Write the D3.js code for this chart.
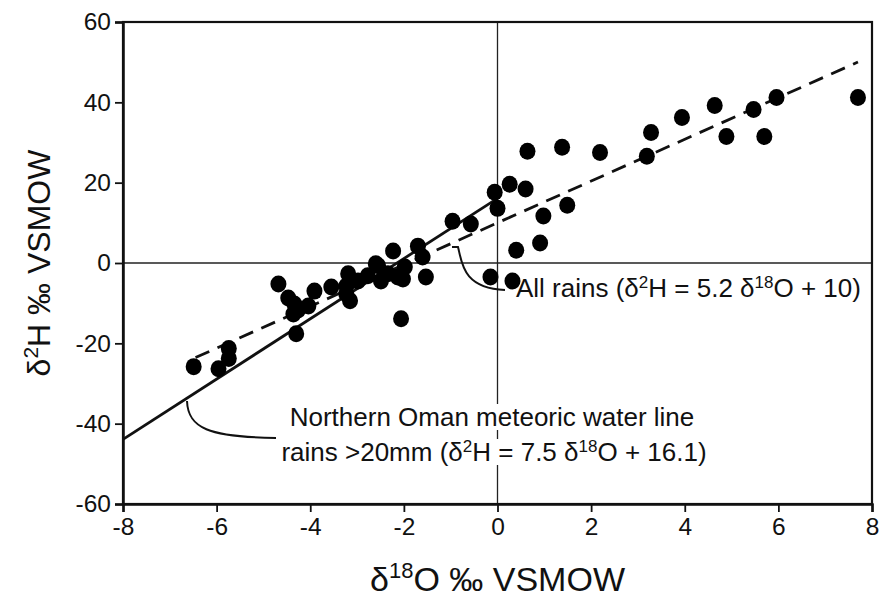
<!DOCTYPE html>
<html><head><meta charset="utf-8">
<script src="https://cdn.jsdelivr.net/npm/d3@7"></script>
<style>body{margin:0;background:#fff}svg{display:block}text{font-family:"Liberation Sans",Arial,sans-serif;fill:#111}</style>
</head><body><svg id="c" width="885" height="600"></svg>
<script>
const d18O = [7.70,5.96,5.47,5.70,4.64,4.89,3.94,3.28,3.19,2.19,1.38,0.64,1.49,0.98,0.91,0.40,0.26,0.60,-0.06,0.00,0.32,-0.15,-0.96,-0.57,-1.70,-1.60,-1.53,-2.02,
 -2.23,-2.60,-2.34,-2.13,-2.77,-2.98,-3.19,-3.23,-3.15,-3.55,-3.91,-4.47,-4.68,-4.26,-4.04,-2.06,-4.36,-4.30,-1.98,-2.49,-3.23,-4.34,-2.55,-5.74,-5.74,-5.96,-6.49];
const d2H = [41.2,41.2,38.2,31.5,39.2,31.5,36.2,32.5,26.6,27.5,28.8,27.8,14.4,11.7,5.0,3.2,19.6,18.4,17.6,13.6,-4.5,-3.5,10.4,9.7,4.2,1.5,-3.5,-4.0,
 3.0,-0.2,-2.7,-3.5,-3.2,-4.5,-2.7,-5.7,-9.4,-6.0,-7.0,-8.7,-5.2,-11.7,-10.7,-13.9,-12.7,-17.6,-1.0,-4.5,-7.7,-10.2,-0.7,-21.3,-23.8,-26.3,-25.8];
const xTicks = [-8,-6,-4,-2,0,2,4,6,8];
const yTicks = [-60,-40,-20,0,20,40,60];
// regression lines: [slope, intercept, xStart, xEnd]
const mwl = [7.5, 16.1, -8, 0];
const allRains = [5.2, 10, -6.45, 7.7];

const svg = d3.select("#c");
const L=123, R=872, T=22, B=504;
const x = d3.scaleLinear().domain([-8,8]).range([L,R]);
const y = d3.scaleLinear().domain([-60,60]).range([B,T]);

svg.append("line").attr("x1",x(-8)).attr("x2",x(8)).attr("y1",y(0)).attr("y2",y(0)).attr("stroke","#222").attr("stroke-width",1.3);
svg.append("line").attr("x1",x(0)).attr("x2",x(0)).attr("y1",y(60)).attr("y2",y(-60)).attr("stroke","#222").attr("stroke-width",1.3);

const ln = p => [[p[2], p[0]*p[2]+p[1]],[p[3], p[0]*p[3]+p[1]]];
const lg = d3.line().x(d=>x(d[0])).y(d=>y(d[1]));
svg.append("path").attr("d",lg(ln(mwl))).attr("stroke","#111").attr("stroke-width",2.8).attr("fill","none");
svg.append("path").attr("d",lg(ln(allRains))).attr("stroke","#111").attr("stroke-width",2.8).attr("fill","none").attr("stroke-dasharray","15,9");

svg.append("g").selectAll("ellipse").data(d18O.map((v,i)=>[v,d2H[i]])).join("ellipse")
 .attr("cx",d=>x(d[0])).attr("cy",d=>y(d[1])).attr("rx",8).attr("ry",8.5).attr("fill","#000");

const FS = 24.5, AFS = 26, SUP = 17;
function eqText(sel, parts){
  let sup=false;
  parts.forEach(p=>{ if(typeof p==="string"){ sel.append("tspan").attr("dy",sup?9:0).text(p); sup=false; }
    else { sel.append("tspan").attr("dy",-9).attr("font-size",SUP).text(p.s); sup=true; } });
}
const ann = svg.append("g");
ann.append("path").attr("d","M452,247 L458,247 C462,262 462,288 505,290").attr("stroke","#111").attr("stroke-width",2).attr("fill","none");
const t1 = ann.append("text").attr("x",516).attr("y",297).attr("font-size",AFS);
eqText(t1,["All rains (δ",{s:"2"},"H = 5.2 δ",{s:"18"},"O + 10)"]);

ann.append("path").attr("d","M187,401 C188,428 208,437 276,438").attr("stroke","#111").attr("stroke-width",2).attr("fill","none");
const bg = ann.append("g");
const t2 = ann.append("text").attr("x",492).attr("y",426).attr("font-size",AFS).attr("text-anchor","middle").text("Northern Oman meteoric water line");
const t3 = ann.append("text").attr("x",494).attr("y",461).attr("font-size",AFS).attr("text-anchor","middle");
eqText(t3,["rains >20mm (δ",{s:"2"},"H = 7.5 δ",{s:"18"},"O + 16.1)"]);
[t2,t3].forEach(t=>{const b=t.node().getBBox(); bg.append("rect").attr("x",b.x-3).attr("y",b.y+2).attr("width",b.width+6).attr("height",b.height-4).attr("fill","#fff");});

svg.append("rect").attr("x",L).attr("y",T).attr("width",R-L).attr("height",B-T).attr("fill","none").attr("stroke","#111").attr("stroke-width",2.2);

const xa = svg.append("g").attr("transform",`translate(0,${B})`).call(d3.axisBottom(x).tickValues(xTicks).tickSize(8).tickPadding(6).tickFormat(d3.format("d")));
const ya = svg.append("g").attr("transform",`translate(${L},0)`).call(d3.axisLeft(y).tickValues(yTicks).tickSize(8).tickPadding(4).tickFormat(d3.format("d")));
[xa,ya].forEach(a=>{a.select(".domain").attr("stroke","#111").attr("stroke-width",2.5);a.selectAll(".tick line").attr("stroke","#111").attr("stroke-width",1.8);a.selectAll("text").attr("font-size",FS).attr("fill","#111").attr("font-family","Liberation Sans, Arial, sans-serif");});
xa.selectAll(".tick text").text(d=>d<0?"-"+Math.abs(d):d);
ya.selectAll(".tick text").text(d=>d<0?"-"+Math.abs(d):d);

const xt = svg.append("text").attr("x",(L+R)/2).attr("y",591).attr("text-anchor","middle").attr("font-size",34);
xt.append("tspan").text("δ");
xt.append("tspan").attr("dy",-13).attr("font-size",22).text("18");
xt.append("tspan").attr("dy",13).text("O ‰ VSMOW");
const yt = svg.append("text").attr("transform",`translate(50,${(T+B)/2}) rotate(-90)`).attr("text-anchor","middle").attr("font-size",32);
yt.append("tspan").text("δ");
yt.append("tspan").attr("dy",-12).attr("font-size",21).text("2");
yt.append("tspan").attr("dy",12).text("H ‰ VSMOW");
</script></body></html>
